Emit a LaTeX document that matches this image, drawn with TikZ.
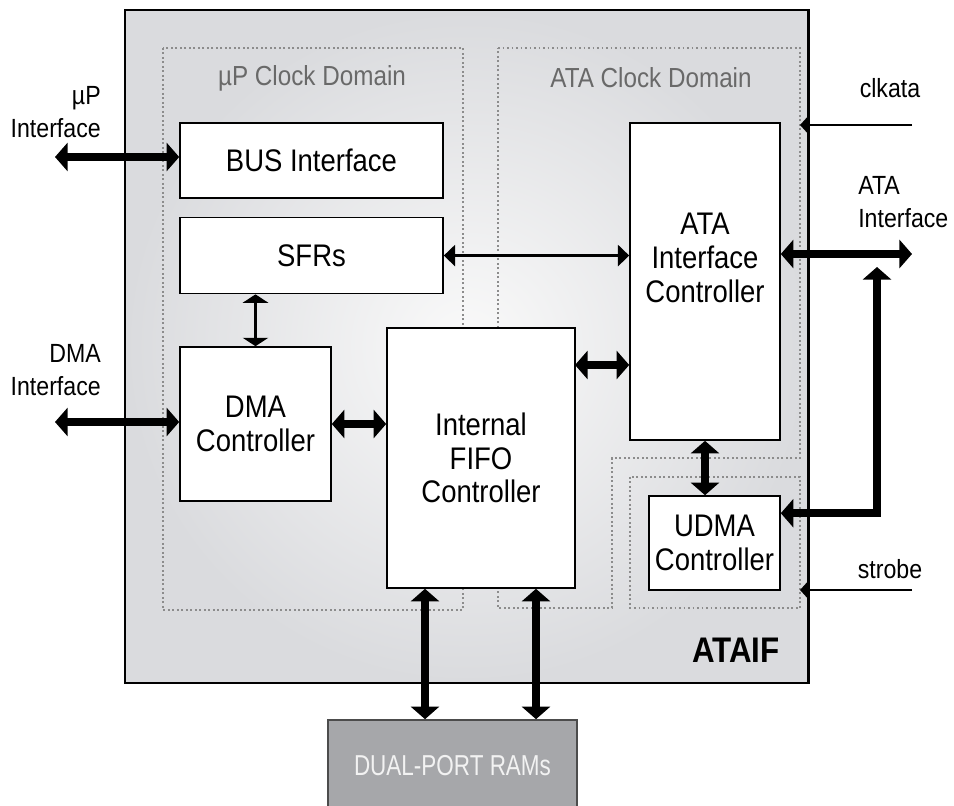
\documentclass[tikz,border=0pt]{standalone}
\usepackage{fontspec}
\setmainfont[FakeStretch=0.88]{Liberation Sans}
\newfontfamily\ramfamily[FakeStretch=0.78]{Liberation Sans}
\usetikzlibrary{arrows.meta, positioning, calc}
\definecolor{panelgray}{RGB}{218,219,222}
\definecolor{panellight}{RGB}{250,250,250}
\definecolor{domaingray}{RGB}{140,140,140}
\definecolor{titlegray}{RGB}{105,105,105}
\definecolor{ramgray}{RGB}{166,167,170}
\definecolor{ramtext}{RGB}{242,242,242}
\newcommand\boxfont{\fontsize{22.2}{24}\selectfont}
\newcommand\titlefont{\fontsize{19.6}{22}\selectfont}
\newcommand\sidefont{\fontsize{18.7}{24}\selectfont}

\begin{document}
\begin{tikzpicture}[
  x=0.025cm, y=-0.025cm,
  block/.style={draw, fill=white, line width=1.1pt, inner sep=0pt,
                font=\boxfont, align=center},
  clkdomain/.style={draw=domaingray, line width=1.2pt, dash pattern=on 1.2pt off 2pt},
  domtitle/.style={font=\titlefont, color=titlegray},
  sidelabel/.style={font=\sidefont, inner sep=0pt},
  bigarrow/.style={{Triangle[length=9pt,width=20pt]}-{Triangle[length=9pt,width=20pt]},
                   line width=5.6pt},
  midarrow/.style={{Triangle[length=6pt,width=18pt]}-{Triangle[length=6pt,width=18pt]},
                   line width=2.2pt},
  thinarrow/.style={{Triangle[length=8pt,width=15pt]}-{Triangle[length=8pt,width=15pt]},
                    line width=1.6pt},
  sigarrow/.style={-{Triangle[length=7pt,width=15pt]}, line width=1.6pt}
]
  \useasboundingbox (0,0) rectangle (954,806);

  % ATAIF panel
  \node[draw, line width=2pt, inner sep=0pt, shading=radial,
        inner color=panellight, outer color=panelgray,
        minimum width=17.075cm, minimum height=16.825cm] (panel) at (466.5,346.5) {};

  % clock domains
  \draw[clkdomain] (163,48) rectangle (463,610);
  \draw[clkdomain] (498,48) coordinate (atanw) -- (800,48) coordinate (atane) -- (800,458)
                -- (612,458) -- (612,608) -- (498,608) -- cycle;
  \draw[clkdomain] (630,477) rectangle (800,608);
  \node[domtitle] (uptitle) at (312,78) {µP Clock Domain};
  \node[domtitle] (atatitle) at (651,78) {ATA Clock Domain};

  % blocks
  \node[block, minimum width=6.575cm, minimum height=1.875cm] (bus) at (311.5,160.5) {BUS Interface};
  \node[block, minimum width=6.575cm, minimum height=1.9cm, below=0.45cm of bus] (sfr) {SFRs};
  \node[block, minimum width=3.775cm, minimum height=3.85cm] (dma) at (255.5,424) {DMA\\Controller};
  \node[block, minimum width=4.7cm, minimum height=6.5cm] (fifo) at (481,458) {Internal\\FIFO\\Controller};
  \node[block, minimum width=3.75cm, minimum height=7.925cm] (ataic) at (705,281.5) {};
  \node[font=\boxfont, align=center] (ataictext) at (705,258) {ATA\\Interface\\Controller};
  \node[block, minimum width=3.275cm, minimum height=2.35cm] (udma) at (714.5,543) {UDMA\\Controller};
  \node[block, fill=ramgray, draw=black!70, text=ramtext, font=\ramfamily\fontsize{20.5}{24}\selectfont,
        minimum width=6.225cm, minimum height=2.3cm] (ram) at (452.5,766) {DUAL-PORT RAMs};
  \node[font=\fontsize{25.3}{28}\selectfont\bfseries] (ataif) at (736,650) {ATAIF};

  % outside labels
  \node[sidelabel, align=right, anchor=east] (uplbl) at (101,112) {µP\\Interface};
  \node[sidelabel, align=right, anchor=east] (dmalbl) at (101,370) {DMA\\Interface};
  \node[sidelabel, align=left, anchor=west] (atalbl) at (858,202) {ATA\\Interface};
  \node[sidelabel] (clklbl) at (890,88) {clkata};
  \node[sidelabel] (strblbl) at (890,569) {strobe};

  % free ends
  \coordinate (upif) at (55,157);
  \coordinate (dmaif) at (55,422);
  \coordinate (ataifc) at (912,254);
  \coordinate (udmabus) at (877,267);
  \coordinate (fifoata) at (575,365);
  \coordinate (clk) at (912,125);
  \coordinate (strb) at (912,590);
  \path (fifo.south) ++(-56,0) coordinate (porta) ++(111,0) coordinate (portb);

  % connectors
  \draw[bigarrow] (upif) -- (upif -| bus.west);
  \draw[bigarrow] (dmaif) -- (dmaif -| dma.west);
  \draw[thinarrow] (sfr.east) -- (sfr.east -| ataic.west);
  \draw[midarrow] (dma.north) -- (dma.north |- sfr.south);
  \draw[bigarrow] (dma.east) -- (dma.east -| fifo.west);
  \draw[bigarrow] (fifoata) -- (fifoata -| ataic.west);
  \draw[bigarrow] (ataifc -| ataic.east) -- (ataifc);
  \draw[bigarrow] (ataic.south) -- (ataic.south |- udma.north);
  \draw[bigarrow] (udmabus) |- ([yshift=-0.45cm]udma.north east);
  \draw[sigarrow] (clk) -- (clk -| atane);
  \draw[sigarrow] (strb) -- (strb -| atane);
  \draw[bigarrow] (porta) -- (porta |- ram.north);
  \draw[bigarrow] (portb) -- (portb |- ram.north);
\end{tikzpicture}
\end{document}
